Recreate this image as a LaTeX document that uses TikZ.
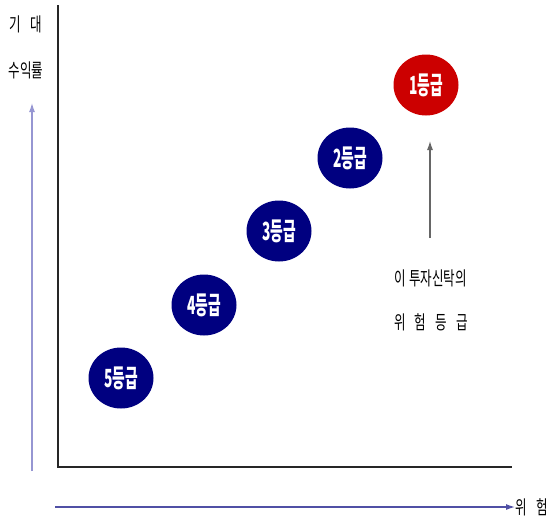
\documentclass[tikz,border=0pt]{standalone}
\usepackage{fontspec}
\newfontfamily\krfont[FakeStretch=0.66]{Noto Sans CJK KR}
\newfontfamily\gradefont[FakeStretch=0.55]{Noto Sans CJK KR}
\usetikzlibrary{shapes.geometric, positioning, arrows.meta}
\definecolor{navy}{RGB}{0,0,128}
\definecolor{topred}{RGB}{204,0,0}
\definecolor{guideblue}{RGB}{80,80,165}
\definecolor{paleblue}{RGB}{150,150,210}
\tikzset{
x=1pt, y=-1pt, % pixel-like coordinates, y going down
>={Latex[length=9pt, width=6pt]}, % arrow heads
grade/.style={ellipse, fill=navy, minimum width=65pt, minimum height=61pt, inner sep=0pt, text=white, font=\gradefont\bfseries\fontsize{25}{25}\selectfont}, % the grade bubbles
topgrade/.style={grade, fill=topred}, % this fund's grade
axis/.style={line width=1.8pt, black!85}, % the chart frame
guide/.style={->, line width=1.2pt, guideblue}, % axis direction arrows
label/.style={font=\krfont\fontsize{19}{19}\selectfont, inner sep=0pt}, % axis and note texts
}

\begin{document}
\begin{tikzpicture}
                \useasboundingbox (0,0) rectangle (554,522);

                % frame
                \coordinate (ytop) at (58,5);
                \coordinate (o) at (58,467);
                \coordinate (xend) at (512,467);
                \draw[axis] (ytop) -- (o) -- (xend);

                % axis names and arrows
                \node[label] (ret1) at (26,24) {기\hspace{10pt}대};
                \node[label] (ret2) at (26,70) {수익률};
                \coordinate (yfrom) at (32,471);
                \coordinate (yto) at (32,103);
                \draw[->, line width=1.2pt, paleblue] (yfrom) -- (yto);
                \coordinate (xfrom) at (55,507);
                \node[label, anchor=west] (risk) at (515,507) {위\hspace{10pt}험};
                \draw[guide] (xfrom) -- (risk.west);

                % grades
                \node[grade] (g5) at (121,378) {5등급};
                \node[grade] (g4) at (204,305) {4등급};
                \node[grade] (g3) at (279,231) {3등급};
                \node[grade] (g2) at (350,158) {2등급};
                \node[topgrade] (g1) at (426,85) {1등급};

                % note
                \node[label] (note1) at (431,278) {이 투자신탁의};
                \node[label] (note2) at (431,322) {위\hspace{9pt}험\hspace{9pt}등\hspace{9pt}급};
                \coordinate (nfrom) at (430,238);
                \coordinate (nto) at (430,141);
                \draw[->, line width=1.1pt, black!60] (nfrom) -- (nto);
            \end{tikzpicture}
\end{document}
